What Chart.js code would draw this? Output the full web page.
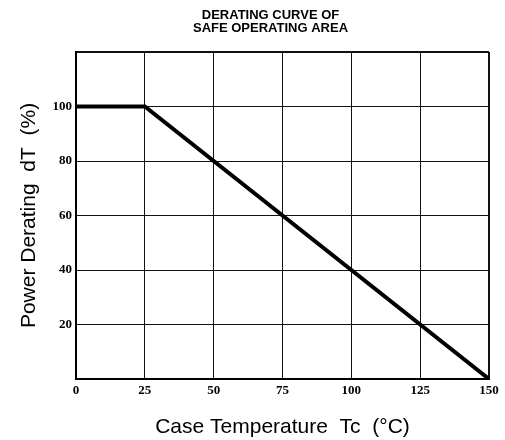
<!DOCTYPE html>
<html>
<head>
<meta charset="utf-8">
<script src="https://cdn.jsdelivr.net/npm/chart.js@4.4.1/dist/chart.umd.min.js"></script>
<style>
  html, body { margin: 0; padding: 0; background: #fff; }
  #wrap { width: 505px; height: 440px; }
</style>
</head>
<body>
<div id="wrap"><canvas id="deratingChart" width="505" height="440"></canvas></div>
<script>
// data
const caseTemp = [0, 25, 150];
const powerDerating = [100, 100, 0];
const xTicks = [0, 25, 50, 75, 100, 125, 150];
const yTicks = [0, 20, 40, 60, 80, 100, 120];
const titleLines = ['DERATING CURVE OF', 'SAFE OPERATING AREA'];

const tickFont = { family: '"Liberation Serif", "DejaVu Serif", serif', size: 13, weight: 'bold' };
const axisTitleFont = { family: '"Liberation Sans", Arial, sans-serif', size: 21 };

// title sits a little left of the plot centre in the original
const sheetTitle = {
    id: 'sheetTitle',
    afterDraw(chart) {
        const { ctx, chartArea } = chart;
        ctx.save();
        ctx.fillStyle = '#000';
        ctx.font = 'bold 13px "Liberation Sans", Arial, sans-serif';
        ctx.textAlign = 'center';
        ctx.textBaseline = 'middle';
        const cx = (chartArea.left + chartArea.right) / 2 - 12;
        titleLines.forEach((line, i) => ctx.fillText(line, cx, 15 + i * 13));
        ctx.restore();
    }
};

const edgeWidth = (max) => (c) => (c.tick && c.tick.value === max ? 2 : 1);

document.addEventListener('DOMContentLoaded', function () {
    const ctx = document.getElementById('deratingChart').getContext('2d');

    new Chart(ctx, {
        type: 'line',
        data: {
            datasets: [{
                data: caseTemp.map((t, i) => ({ x: t, y: powerDerating[i] })),
                borderColor: '#000',
                borderWidth: 4,
                pointRadius: 0,
                fill: false,
                tension: 0,
            }],
        },
        options: {
            responsive: false,
            animation: false,
            layout: { padding: { top: 52, right: 16, left: 0, bottom: 0 } },
            plugins: {
                legend: { display: false },
                tooltip: { enabled: false },
                title: { display: false },
            },
            scales: {
                x: {
                    type: 'linear',
                    min: 0,
                    max: 150,
                    afterBuildTicks: (scale) => { scale.ticks = xTicks.map(v => ({ value: v })); },
                    afterFit: (scale) => { scale.height = 61; },
                    grid: { color: '#111', lineWidth: edgeWidth(150), drawTicks: false },
                    border: { color: '#000', width: 2 },
                    ticks: { color: '#000', font: tickFont, padding: 4, maxRotation: 0 },
                    title: {
                        display: true,
                        text: 'Case Temperature  Tc  (°C)',
                        color: '#000',
                        font: axisTitleFont,
                        padding: { top: 0, bottom: 0 },
                    },
                },
                y: {
                    min: 0,
                    max: 120,
                    afterBuildTicks: (scale) => { scale.ticks = yTicks.map(v => ({ value: v })); },
                    afterFit: (scale) => { scale.width = 76; },
                    grid: { color: '#111', lineWidth: edgeWidth(120), drawTicks: false },
                    border: { color: '#000', width: 2 },
                    ticks: {
                        color: '#000',
                        font: tickFont,
                        padding: 4,
                        callback: (v) => (v === 0 || v === 120 ? '' : v),
                    },
                    title: {
                        display: true,
                        text: 'Power Derating  dT  (%)',
                        color: '#000',
                        font: axisTitleFont,
                        padding: { top: 17, bottom: 0 },
                    },
                },
            },
        },
        plugins: [sheetTitle],
    });
});
</script>
</body>
</html>
